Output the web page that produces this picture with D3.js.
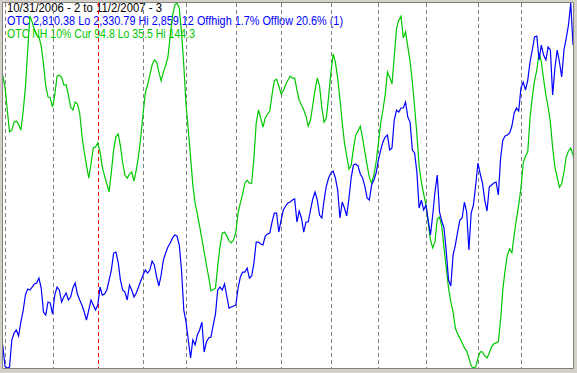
<!DOCTYPE html>
<html><head><meta charset="utf-8">
<script src="https://cdn.jsdelivr.net/npm/d3@7"></script>
<style>html,body{margin:0;padding:0;background:#d4d0c8;} svg{display:block}</style>
</head><body><svg id="c" width="577" height="373"></svg>
<script>
// ---- data ----
const startDate = "2006-10-31", endDate = "2007-11-02";
const holidays = ["2006-11-23","2006-12-25","2007-01-01","2007-01-02","2007-01-15","2007-02-19","2007-04-06","2007-05-28","2007-07-04","2007-09-03"];
const otc = [
2364.1,2333,2330.79,2332,2371.3,2381.4,2385.8,2377.1,2397.3,2413.3,
2436.4,2445.1,2443.7,2448.0,2452.4,2453.8,2461.0,2446.6,2411.8,2407.5,
2426.3,2424.8,2408.9,2436.4,2448.0,2443.7,2426.3,2433.5,2439.3,2429.2,
2433.5,2446.6,2453.8,2437.9,2429.2,2422.0,2411.8,2400.2,2414.7,2429.2,
2422.0,2414.7,2422.0,2448.0,2436.4,2437.9,2443.7,2458.1,2472.6,2497.2,
2498.7,2484.2,2458.1,2443.7,2440.8,2429.2,2450.9,2443.7,2433.5,2439.3,
2448.0,2456.7,2465.4,2472.6,2468.3,2472.6,2485.6,2479.9,2462.5,2449.5,
2465.4,2487.1,2497.2,2505.9,2511.7,2518.9,2523.3,2521.8,2508.8,2472.6,
2414.7,2397.3,2371.3,2345.2,2371.3,2364.1,2378.5,2385.8,2397.3,2353.9,
2368.4,2374.2,2375.6,2393.0,2408.9,2443.7,2448.0,2443.7,2452.4,2435.0,
2417.6,2419.1,2420.5,2422.0,2446.6,2462.5,2469.7,2469.7,2475.5,2461.0,
2463.9,2482.7,2513.1,2513.1,2510.3,2508.8,2521.8,2524.7,2526.2,2542.1,
2555.1,2555.1,2527.6,2545.0,2559.5,2565.3,2569.6,2571.0,2573.9,2575.4,
2542.1,2558.0,2547.9,2527.6,2542.1,2542.1,2559.5,2575.4,2585.5,2573.9,
2552.2,2547.9,2573.9,2594.2,2605.8,2613.0,2615.9,2605.8,2588.4,2547.9,
2571.0,2562.4,2550.8,2576.8,2607.2,2624.6,2626.1,2623.2,2611.6,2605.8,
2594.2,2576.8,2573.9,2595.7,2602.9,2613.0,2631.8,2646.3,2657.9,2665.1,
2668.0,2646.3,2649.2,2689.7,2704.2,2701.3,2707.1,2707.1,2715.8,2694.1,
2686.8,2646.3,2642.0,2614.5,2562.4,2573.9,2559.5,2566.7,2545.0,2523.3,
2552.2,2585.5,2610.1,2556.6,2543.5,2533.4,2498.7,2458.1,2449.5,2494.3,
2508.8,2527.6,2545.0,2547.9,2571.0,2556.6,2501.6,2555.1,2566.7,2595.7,
2627.5,2611.6,2598.5,2573.9,2558.0,2592.8,2595.7,2598.5,2600.0,2581.2,
2634.7,2660.8,2666.6,2668.0,2670.9,2681.1,2699.9,2707.1,2702.8,2736.1,
2744.7,2733.2,2747.6,2773.7,2791.1,2809.9,2811.3,2776.6,2798.3,2783.8,
2776.6,2795.4,2791.1,2725.9,2765.0,2791.1,2773.7,2752.0,2791.1,2808.4,
2827.3,2859.12,2798.3,2810.38
];
const nh = [
122.8,119.3,112.4,105.9,106.4,108.8,109.1,108.2,106.4,111.8,
119.0,129.7,140.4,138.6,136.3,134.8,134.2,131.5,126.1,119.6,
116.3,116.0,113.3,116.9,122.5,122.8,122.2,119.9,119.9,116.9,
113.3,112.4,114.8,114.2,111.5,104.7,99.9,96.0,92.1,96.3,
101.1,101.4,102.6,99.9,95.4,92.7,90.4,88.0,93.9,100.5,
104.4,105.3,101.7,96.6,93.0,92.1,93.3,93.9,91.2,94.5,
98.7,104.4,111.2,117.5,119.9,122.8,125.8,127.3,126.7,123.7,
121.1,123.7,125.8,128.2,134.5,140.4,143.7,144.3,142.8,135.7,
125.8,113.9,106.4,98.4,90.1,84.7,81.4,77.8,74.0,70.1,
66.2,62.6,58.5,58.8,59.3,65.9,71.6,75.7,76.0,74.9,
73.4,72.8,73.7,76.0,81.7,84.7,87.4,90.6,91.5,90.6,
90.6,98.1,108.5,112.4,110.0,107.3,110.0,111.2,112.1,116.9,
121.1,121.6,119.6,117.2,118.1,119.9,121.3,122.5,121.9,121.9,
118.4,115.4,113.9,112.4,110.6,107.6,109.4,113.9,118.4,121.9,
119.6,113.0,108.8,110.0,116.3,123.4,129.1,126.7,121.9,115.7,
108.8,102.6,98.7,94.8,96.0,101.1,105.0,106.1,107.6,104.1,
99.9,96.0,92.4,90.6,93.0,96.9,102.6,108.5,112.4,116.9,
123.7,122.2,120.2,128.2,136.6,139.2,140.4,133.9,135.7,131.2,
127.0,120.8,113.3,105.3,95.7,90.9,87.4,84.1,79.0,73.7,
71.3,73.1,79.9,80.5,77.8,71.3,65.3,59.3,55.2,52.2,
47.4,45.6,44.4,43.0,41.5,40.6,38.5,36.1,35.5,35.8,
38.5,40.3,40.3,39.1,38.5,40.0,41.8,42.7,43.0,43.3,
49.8,59.0,64.7,69.2,71.0,69.8,75.2,79.9,84.1,89.2,
96.6,98.7,99.9,110.0,116.3,121.1,124.3,129.4,126.7,121.6,
116.9,113.3,108.8,101.1,95.4,92.4,89.4,90.4,93.9,98.4,
100.2,101.1,99.0,94.8
];
const otcLo = 2330.79, otcHi = 2859.12, nhLo = 35.5, nhHi = 144.3;
const titleLines = [
  {text:"10/31/2006 - 2 to 11/2/2007 - 3", color:"#000000", len:155},
  {text:"OTC 2,810.38 Lo 2,330.79 Hi 2,859.12  Offhigh 1.7%  Offlow 20.6% (1)", color:"#0000ff", len:336},
  {text:"OTC NH 10% Cur 94.8 Lo 35.5 Hi 144.3", color:"#00c800", len:188}
];

// ---- trading days ----
const fmt = d3.timeFormat("%Y-%m-%d");
const hol = new Set(holidays);
const days = d3.timeDay.range(d3.timeParse("%Y-%m-%d")(startDate), d3.timeDay.offset(d3.timeParse("%Y-%m-%d")(endDate),1))
  .filter(d => d.getDay()!==0 && d.getDay()!==6 && !hol.has(fmt(d)));

// ---- layout ----
const W=577,H=373;
const plot={x0:3,y0:3,x1:573,y1:368};
const svg=d3.select("#c");
svg.append("rect").attr("x",0).attr("y",0).attr("width",W).attr("height",H).attr("fill","#d4d0c8");
svg.append("rect").attr("x",plot.x0).attr("y",plot.y0).attr("width",plot.x1-plot.x0).attr("height",plot.y1-plot.y0).attr("fill","#ffffff");
svg.append("path").attr("d",`M${plot.x0-0.5},${plot.y1}V${plot.y0-0.5}H${plot.x1}`).attr("fill","none").attr("stroke","#808080");
svg.append("path").attr("d",`M${plot.x0-0.5},${plot.y1+0.5}H${plot.x1+0.5}V${plot.y0-0.5}`).attr("fill","none").attr("stroke","#808080");

svg.append("clipPath").attr("id","clip").append("rect").attr("x",plot.x0).attr("y",plot.y0).attr("width",plot.x1-plot.x0).attr("height",plot.y1-plot.y0);

const n=otc.length;
const x=d3.scaleLinear().domain([0,n-1]).range([2.74, 2.74+253*2.263]);
const yO=d3.scaleLinear().domain([otcLo,otcHi]).range([plot.y1,plot.y0]);
const yN=d3.scaleLinear().domain([nhLo,nhHi]).range([plot.y1,plot.y0]);

const g=svg.append("g").attr("clip-path","url(#clip)");

// title text
g.selectAll("text.t").data(titleLines).join("text")
  .attr("x",7).attr("y",(d,i)=>12+i*13)
  .attr("fill",d=>d.color)
  .attr("font-family","Liberation Sans, Arial, sans-serif").attr("font-size","12px")
  .attr("textLength",d=>d.len).attr("lengthAdjust","spacingAndGlyphs")
  .text(d=>d.text);

// month gridlines
const monthIdx=[];
days.forEach((d,i)=>{ if(i>0 && d.getMonth()!==days[i-1].getMonth()) monthIdx.push({i, jan:d.getMonth()===0}); });
g.selectAll("line.m").data(monthIdx).join("line")
  .attr("x1",d=>Math.round(x(d.i))+0.5).attr("x2",d=>Math.round(x(d.i))+0.5)
  .attr("y1",plot.y0).attr("y2",plot.y1)
  .attr("stroke",d=>d.jan?"#ff0000":"#808080").attr("stroke-dasharray","4,3");

const lineN=d3.line().x((d,i)=>x(i)).y(d=>yN(d));
const lineO=d3.line().x((d,i)=>x(i)).y(d=>yO(d));
g.append("path").attr("d",lineN(nh)).attr("fill","none").attr("stroke","#00c800").attr("stroke-width",1.2);
g.append("path").attr("d",lineO(otc)).attr("fill","none").attr("stroke","#0000ff").attr("stroke-width",1.2);
</script></body></html>
